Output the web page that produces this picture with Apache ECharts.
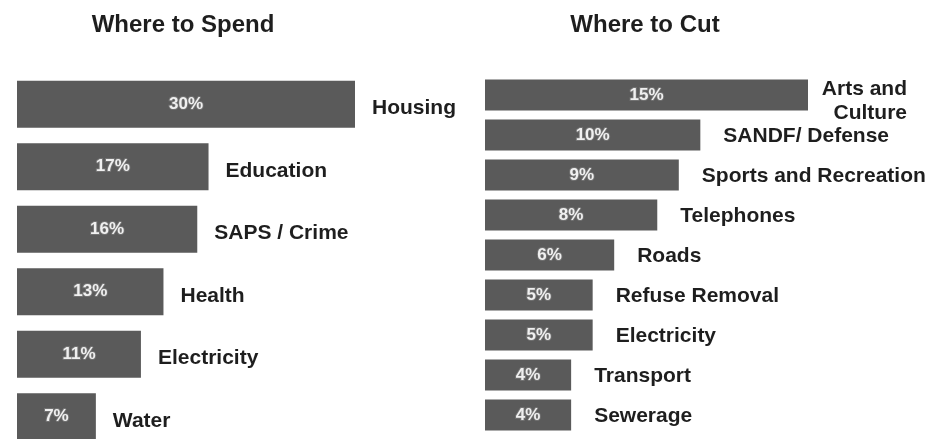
<!DOCTYPE html>
<html>
<head>
<meta charset="utf-8">
<script src="https://cdn.jsdelivr.net/npm/echarts@6/dist/echarts.min.js"></script>
<style>
  html, body { margin: 0; padding: 0; background: #fff; }
  #chart { width: 932px; height: 439px; }
</style>
</head>
<body>
<div id="chart"></div>
<script>
// Survey: where public money should be spent and where it should be cut (% of respondents)
const spendCategories = ['Housing', 'Education', 'SAPS / Crime', 'Health', 'Electricity', 'Water'];
const spendValues = [30, 17, 16, 13, 11, 7];

const cutCategories = ['Arts and Culture', 'SANDF/ Defense', 'Sports and Recreation', 'Telephones',
  'Roads', 'Refuse Removal', 'Electricity', 'Transport', 'Sewerage'];
const cutValues = [15, 10, 9, 8, 6, 5, 5, 4, 4];

const FONT = '"Liberation Sans", Arial, Helvetica, sans-serif';
const BAR = '#5a5a5a';
const INK = '#1e1e1e';

const valueLabel = {
  show: true,
  position: 'inside',
  formatter: p => p.value + '%',
  color: '#f0f0f0',
  fontFamily: FONT,
  fontWeight: 'bold',
  fontSize: 17,
  textBorderColor: '#727272',
  textBorderWidth: 2
};

function nameLabel(distance, dy) {
  return {
    show: true,
    position: 'right',
    distance: distance,
    offset: [0, dy],
    formatter: p => p.name,
    color: INK,
    fontFamily: FONT,
    fontWeight: 'bold',
    fontSize: 21
  };
}

// The first "cut" category wraps onto two right-aligned lines
const cutNameData = cutValues.map((v, i) => {
  if (i === 0) {
    return {
      value: v,
      label: {
        distance: 14,
        offset: [0, 6],
        formatter: '{a|Arts and}\n{a|Culture}',
        rich: { a: { width: 85, align: 'right', fontFamily: FONT, fontWeight: 'bold', fontSize: 21, color: INK, lineHeight: 24 } }
      }
    };
  }
  return v;
});

const hiddenValueAxis = (idx, max) => ({
  type: 'value', gridIndex: idx, min: 0, max: max,
  show: false, splitLine: { show: false }
});
const hiddenCatAxis = (idx, cats) => ({
  type: 'category', gridIndex: idx, data: cats, inverse: true,
  show: false
});

const chart = echarts.init(document.getElementById('chart'), null, { renderer: 'canvas' });
chart.setOption({
  backgroundColor: '#ffffff',
  animation: false,
  title: [
    { text: 'Where to Spend', left: 178, top: 8, textAlign: 'center',
      textStyle: { fontFamily: FONT, fontWeight: 'bold', fontSize: 24, color: INK } },
    { text: 'Where to Cut', left: 640, top: 8, textAlign: 'center',
      textStyle: { fontFamily: FONT, fontWeight: 'bold', fontSize: 24, color: INK } }
  ],
  grid: [
    // the last spend bar runs off the bottom edge, so the grid is allowed past the canvas
    { left: 17, top: 73, width: 338, height: 375, outerBoundsMode: 'none', containLabel: false },
    { left: 485, top: 75, width: 323, height: 360, outerBoundsMode: 'none', containLabel: false }
  ],
  xAxis: [hiddenValueAxis(0, 30), hiddenValueAxis(1, 15)],
  yAxis: [hiddenCatAxis(0, spendCategories), hiddenCatAxis(1, cutCategories)],
  series: [
    {
      type: 'bar', xAxisIndex: 0, yAxisIndex: 0, data: spendValues,
      barWidth: 47, itemStyle: { color: BAR }, label: valueLabel
    },
    {
      type: 'bar', xAxisIndex: 0, yAxisIndex: 0, data: spendValues,
      barWidth: 47, barGap: '-100%', itemStyle: { color: 'rgba(0,0,0,0)' },
      label: nameLabel(17, 4), silent: true
    },
    {
      type: 'bar', xAxisIndex: 1, yAxisIndex: 1, data: cutValues,
      barWidth: 31, itemStyle: { color: BAR }, label: valueLabel
    },
    {
      type: 'bar', xAxisIndex: 1, yAxisIndex: 1, data: cutNameData,
      barWidth: 31, barGap: '-100%', itemStyle: { color: 'rgba(0,0,0,0)' },
      label: nameLabel(23, 1), silent: true
    }
  ]
});
</script>
</body>
</html>
